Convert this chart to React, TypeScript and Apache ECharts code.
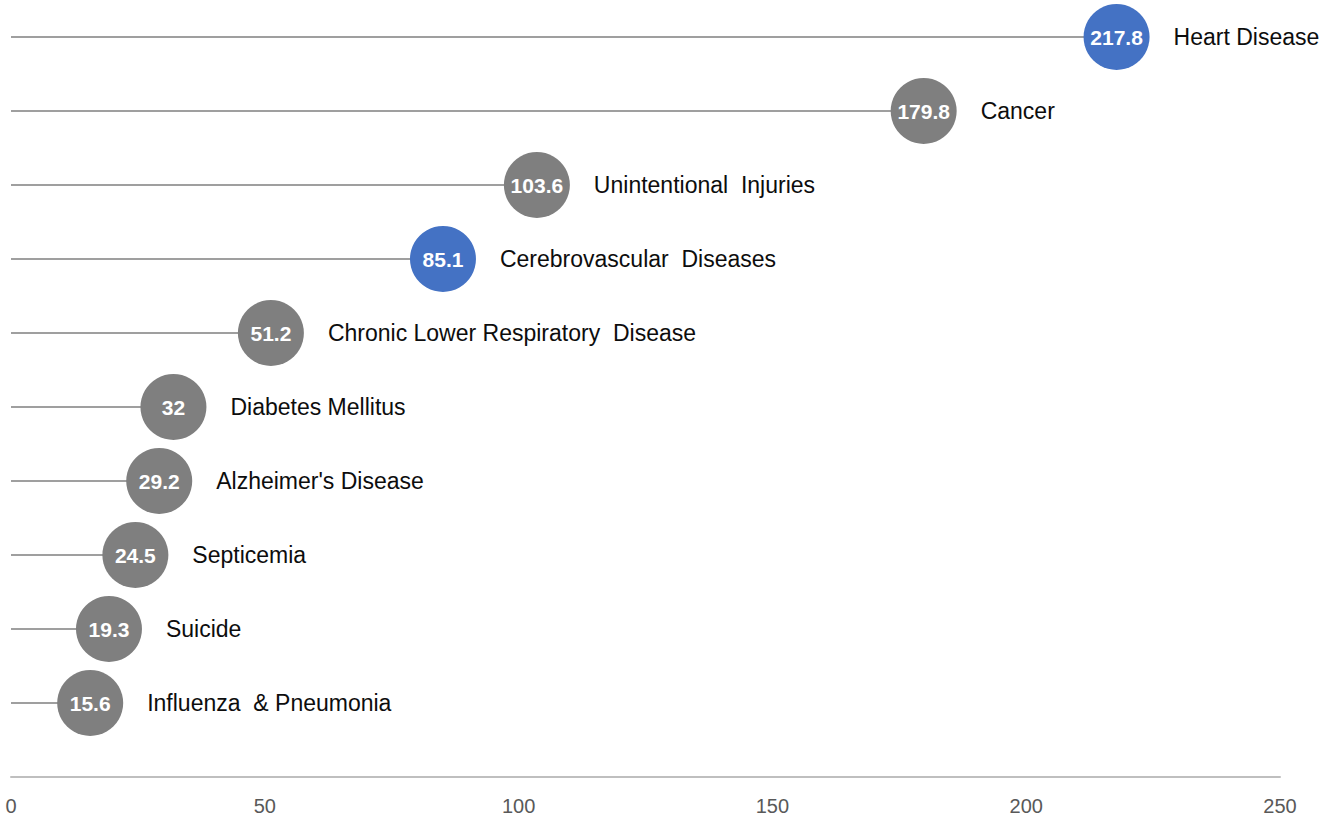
import React, { useEffect, useRef } from "react";
import * as echarts from "echarts";

const categories = [
  "Heart Disease",
  "Cancer",
  "Unintentional  Injuries",
  "Cerebrovascular  Diseases",
  "Chronic Lower Respiratory  Disease",
  "Diabetes Mellitus",
  "Alzheimer's Disease",
  "Septicemia",
  "Suicide",
  "Influenza  & Pneumonia",
];
const values = [217.8, 179.8, 103.6, 85.1, 51.2, 32, 29.2, 24.5, 19.3, 15.6];
const highlighted = [true, false, false, true, false, false, false, false, false, false];
const xTicks = [0, 50, 100, 150, 200, 250];

const FONT = "'Liberation Sans Narrow', 'Arial Narrow', 'Liberation Sans', Arial, sans-serif";
const GRAY = "#7f7f7f";
const BLUE = "#4472c4";

export default function App() {
  const ref = useRef<HTMLDivElement>(null);
  useEffect(() => {
    document.body.style.margin = "0";
    if (!ref.current) return;
    const chart = echarts.init(ref.current, null, { renderer: "svg" });
    const yCats = ["", ...categories.slice().reverse()];
    const vals = values.slice().reverse();
    const hl = highlighted.slice().reverse();
    const barData = ["-", ...vals];
    const pointData = vals.map((v, i) => ({
      value: [v, yCats[i + 1]],
      itemStyle: { color: hl[i] ? BLUE : GRAY, opacity: 1 },
    }));
    const nameData = vals.map((v, i) => ({ value: [v, yCats[i + 1]], name: yCats[i + 1] }));
    chart.setOption({
      animation: false,
      textStyle: { fontFamily: FONT },
      grid: { left: 11, right: 57, top: 37, bottom: 43, containLabel: false },
      xAxis: {
        type: "value",
        min: xTicks[0],
        max: xTicks[xTicks.length - 1],
        interval: 50,
        axisLine: { show: true, lineStyle: { color: "#bfbfbf", width: 2 } },
        axisTick: { show: false },
        splitLine: { show: false },
        axisLabel: { color: "#595959", fontSize: 20, fontFamily: FONT, margin: 19 },
      },
      yAxis: {
        type: "category",
        data: yCats,
        boundaryGap: false,
        axisLine: { show: false },
        axisTick: { show: false },
        axisLabel: { show: false },
        splitLine: { show: false },
      },
      series: [
        {
          type: "bar",
          data: barData,
          barWidth: 1.5,
          itemStyle: { color: GRAY },
          silent: true,
        },
        {
          type: "scatter",
          data: pointData,
          symbol: "circle",
          symbolSize: 66,
          z: 3,
          itemStyle: { opacity: 1 },
          label: {
            show: true,
            position: "inside",
            color: "#ffffff",
            fontSize: 21,
            fontWeight: "bold",
            fontFamily: FONT,
            formatter: (p: any) => String(p.value[0]),
          },
        },
        {
          type: "scatter",
          data: nameData,
          symbol: "circle",
          symbolSize: 66,
          itemStyle: { color: "rgba(0,0,0,0)", opacity: 1 },
          z: 4,
          silent: true,
          label: {
            show: true,
            position: "right",
            distance: 24,
            color: "#0d0d0d",
            fontSize: 23,
            fontFamily: FONT,
            formatter: (p: any) => p.name,
          },
        },
      ],
    });
    return () => chart.dispose();
  }, []);
  return <div ref={ref} style={{ width: 1337, height: 820 }} />;
}
